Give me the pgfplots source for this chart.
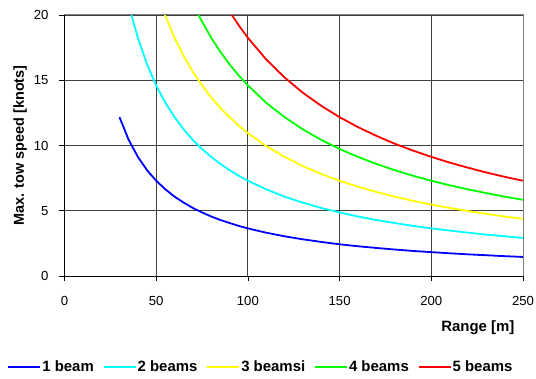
\documentclass[border=0pt]{standalone}
\usepackage{pgfplots}
\pgfplotsset{compat=1.18}
\usepackage{fontspec}
\setmainfont{Liberation Sans}
\definecolor{cblue}{RGB}{0,0,255}
\definecolor{ccyan}{RGB}{0,255,255}
\definecolor{cyellow}{RGB}{255,255,0}
\definecolor{cgreen}{RGB}{0,255,0}
\definecolor{cred}{RGB}{255,0,0}
\begin{document}
\begin{tikzpicture}
\useasboundingbox (-64.5bp,-103bp) rectangle (471.5bp,276bp);
\begin{axis}[
  at={(0,0)}, anchor=south west,
  scale only axis, width=458.5bp, height=261bp,
  xmin=0, xmax=250, ymin=0, ymax=20,
  xtick={0,50,...,250}, ytick={0,5,...,20},
  axis lines=left, axis line style={-, black, line width=0.9bp},
  tick align=outside, major tick length=5bp,
  tick style={black, line width=0.8bp},
  xmajorgrids, ymajorgrids,
  major grid style={black!75, line width=0.9bp},
  /pgf/number format/assume math mode=true,
  ticklabel style={font=\fontsize{13.2}{15}\selectfont},
  xticklabel style={yshift=-12bp},
  yticklabel style={xshift=-7.5bp},
  xlabel={Range [m]}, ylabel={Max. tow speed [knots]},
  label style={font=\fontsize{15}{17}\selectfont\bfseries},
  xlabel style={at={(axis description cs:0.989,-0.199)}, anchor=east},
  ylabel style={at={(axis description cs:-0.097,0.5)}, anchor=center, font=\fontsize{14.5}{17}\selectfont\bfseries},
  legend columns=5,
  legend style={at={(axis description cs:0.4275,-0.349)}, anchor=center, draw=none,
    font=\fontsize{15}{17}\selectfont\bfseries,
    nodes={inner xsep=1bp},
    /tikz/every even column/.append style={column sep=8bp}},
  legend image code/.code={\draw[#1] (0bp,0bp) -- (32bp,0bp);},
  every axis plot/.append style={line width=1.8bp},
  after end axis/.code={\draw[gray, line width=1bp] (rel axis cs:0,1) -- (rel axis cs:1,1) -- (rel axis cs:1,0);},
]
\addplot[cblue] coordinates {
(30,12.17)(35,10.43)(40,9.13)(45,8.11)(50,7.30)(55,6.64)(60,6.08)(65,5.62)(70,5.21)(75,4.87)
(80,4.56)(85,4.29)(90,4.06)(95,3.84)(100,3.65)(105,3.48)(110,3.32)(120,3.04)(130,2.81)(140,2.61)
(150,2.43)(160,2.28)(170,2.15)(180,2.03)(190,1.92)(200,1.83)(210,1.74)(220,1.66)(230,1.59)(240,1.52)(250,1.46)};
\addlegendentry{1 beam}
\addplot[ccyan] coordinates {
(36.5,20)(40,18.25)(45,16.22)(50,14.6)(55,13.27)(60,12.17)(65,11.23)(70,10.43)(75,9.73)(80,9.13)
(85,8.59)(90,8.11)(95,7.68)(100,7.3)(110,6.64)(120,6.08)(130,5.62)(140,5.21)(150,4.87)(160,4.56)
(170,4.29)(180,4.06)(190,3.84)(200,3.65)(210,3.48)(220,3.32)(230,3.17)(240,3.04)(250,2.92)};
\addlegendentry{2 beams}
\addplot[cyellow] coordinates {
(54.75,20)(60,18.25)(65,16.85)(70,15.64)(75,14.6)(80,13.69)(85,12.88)(90,12.17)(95,11.53)(100,10.95)
(110,9.95)(120,9.13)(130,8.42)(140,7.82)(150,7.3)(160,6.84)(170,6.44)(180,6.08)(190,5.76)(200,5.48)
(210,5.21)(220,4.98)(230,4.76)(240,4.56)(250,4.38)};
\addlegendentry{3 beamsi}
\addplot[cgreen] coordinates {
(73,20)(80,18.25)(85,17.18)(90,16.22)(95,15.37)(100,14.6)(110,13.27)(120,12.17)(130,11.23)(140,10.43)
(150,9.73)(160,9.13)(170,8.59)(180,8.11)(190,7.68)(200,7.3)(210,6.95)(220,6.64)(230,6.35)(240,6.08)(250,5.84)};
\addlegendentry{4 beams}
\addplot[cred] coordinates {
(91.25,20)(95,19.21)(100,18.25)(110,16.59)(120,15.21)(130,14.04)(140,13.04)(150,12.17)(160,11.41)
(170,10.74)(180,10.14)(190,9.61)(200,9.13)(210,8.69)(220,8.30)(230,7.93)(240,7.60)(250,7.30)};
\addlegendentry{5 beams}
\end{axis}
\end{tikzpicture}
\end{document}
